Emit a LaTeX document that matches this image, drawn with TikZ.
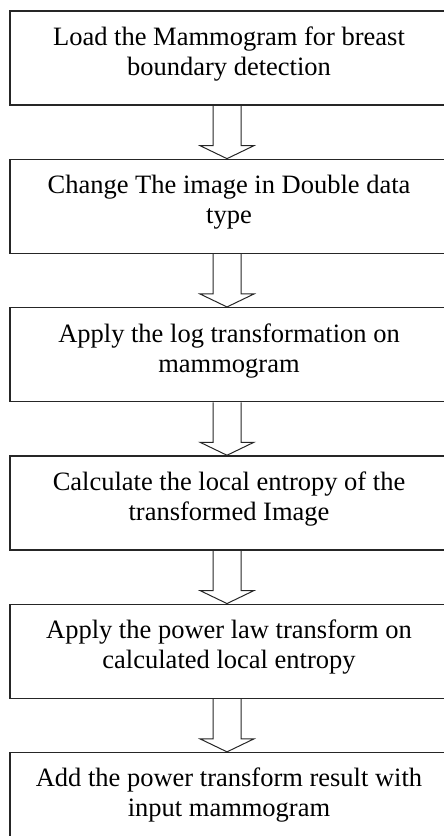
\documentclass[tikz,border=0pt]{standalone}
\usepackage{fontspec}
\setmainfont{Liberation Serif}
\usetikzlibrary{positioning,calc}

\tikzset{
	stepbox/.style={draw=black!85, line width=1.3pt, minimum width=438pt, minimum height=94pt, inner sep=0pt},
	steptext/.style={align=center, inner sep=0pt, font=\fontsize{26.5}{30}\selectfont},
	flowarrow/.style={draw=black!85, line width=1pt, line join=miter},
}
% hollow block arrow from the bottom of one box to the top of the next
\newcommand{\downblock}[2]{%
	\draw[flowarrow] ($(#1.south)+(-16pt,0)$) -- ($(#2.north)+(-16pt,13pt)$) -- ($(#2.north)+(-29pt,13pt)$)
		-- ($(#2.north)+(-2pt,0)$) -- ($(#2.north)+(25pt,13pt)$) -- ($(#2.north)+(12pt,13pt)$) -- ($(#1.south)+(12pt,0)$);}

\begin{document}
\begin{tikzpicture}[x=1pt, y=-1pt, node distance=53pt]
	\useasboundingbox (0,0) rectangle (444,836);
	\node[stepbox] (load) at (229,58) {};
	\node[stepbox, below=of load] (double) {};
	\node[stepbox, below=of double] (logt) {};
	\node[stepbox, below=of logt] (entropy) {};
	\node[stepbox, below=of entropy] (power) {};
	\node[stepbox, below=of power] (add) {};
	%
	\node[steptext] (tload) at ([yshift=4pt]load.center) {Load the Mammogram for breast\\boundary detection};
	\node[steptext] (tdouble) at ([yshift=4pt]double.center) {Change The image in Double data\\type};
	\node[steptext] (tlogt) at ([yshift=4pt]logt.center) {Apply the log transformation on\\mammogram};
	\node[steptext] (tentropy) at ([yshift=4pt]entropy.center) {Calculate the local entropy of the\\transformed Image};
	\node[steptext] (tpower) at ([yshift=4pt]power.center) {Apply the power law transform on\\calculated local entropy};
	\node[steptext] (tadd) at ([yshift=4pt]add.center) {Add the power transform result with\\input mammogram};
	%
	\downblock{load}{double}
	\downblock{double}{logt}
	\downblock{logt}{entropy}
	\downblock{entropy}{power}
	\downblock{power}{add}
\end{tikzpicture}
\end{document}
